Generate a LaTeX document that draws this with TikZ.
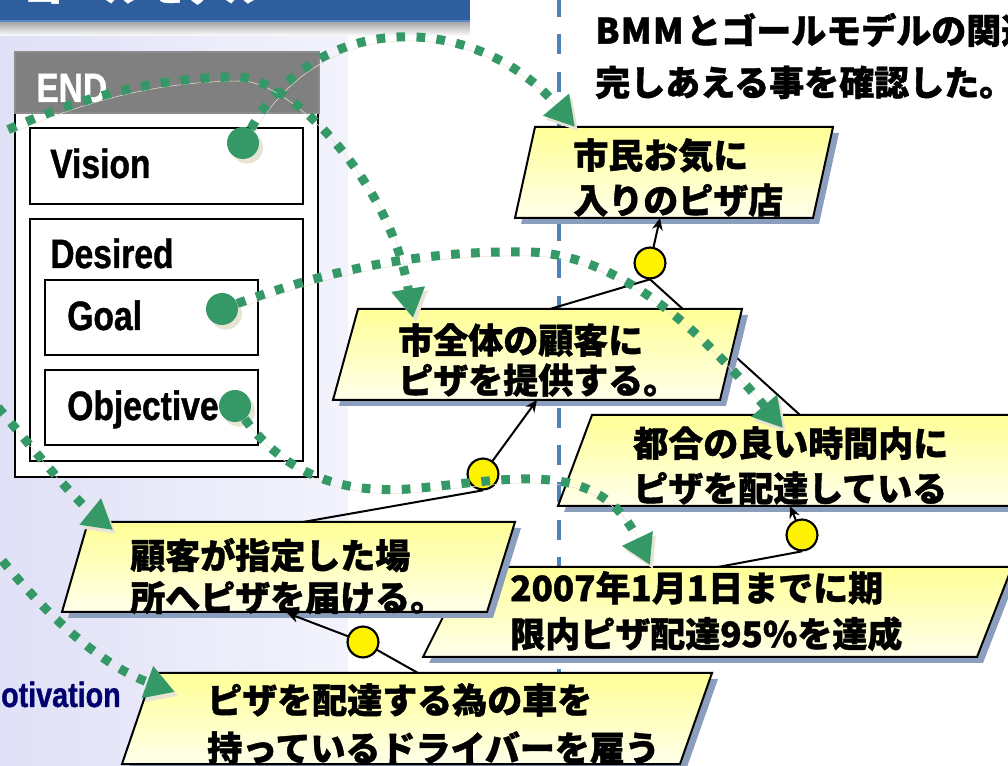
\documentclass[tikz,border=0pt]{standalone}
\usepackage{fontspec}
\newfontfamily\jpfont{Noto Sans CJK JP}[BoldFeatures={FakeBold=1.2}]
\newfontfamily\latfont{Liberation Sans}[FakeStretch=0.82, BoldFeatures={FakeBold=1}]
\usetikzlibrary{arrows.meta,shadows}
\definecolor{ggreen}{RGB}{52,153,102}
\definecolor{gcream}{RGB}{232,228,212}
\definecolor{pshadow}{RGB}{140,158,190}
\definecolor{ytop}{RGB}{255,255,150}
\definecolor{ybot}{RGB}{255,255,235}
\definecolor{dashblue}{RGB}{79,129,189}
\definecolor{hdrblue}{RGB}{46,94,158}
\definecolor{hdredge}{RGB}{90,138,205}
\definecolor{panelL}{RGB}{224,224,247}
\definecolor{panelR}{RGB}{243,243,252}
\definecolor{navy}{RGB}{0,0,110}
\definecolor{endgray}{RGB}{128,128,128}
\begin{document}
\begin{tikzpicture}[x=0.75pt,y=-0.75pt,
  jt/.style={anchor=west, inner sep=0pt, align=left, font=\jpfont\bfseries\fontsize{26.25pt}{#1pt}\selectfont},
  lt/.style={anchor=base west, inner sep=0pt, font=\latfont\bfseries\fontsize{30.75pt}{36pt}\selectfont},
  para/.style={draw=black, line width=1.5pt, top color=ytop, bottom color=ybot},
  psh/.style={fill=pshadow},
  box/.style={draw=black, line width=1.6pt, fill=white},
  orn/.style={circle, draw=black, line width=1.5pt, fill=yellow, minimum size=23pt, inner sep=0pt},
  gdn/.style={circle, fill=ggreen, minimum size=24pt, inner sep=0pt,
    drop shadow={shadow xshift=3pt, shadow yshift=-3.5pt, fill=gcream, opacity=1}},
  conn/.style={draw=black, line width=1.5pt},
  carr/.style={conn, -{Stealth[length=9pt,width=8pt]}},
  gl/.style={draw=ggreen, line width=6.75pt, dash pattern=on 6.5pt off 8.5pt,
    -{Triangle[length=22pt,width=24pt]},
    preaction={draw=gcream, transform canvas={shift={(3,4)}}}}
]
\useasboundingbox (0,0) rectangle (1008,766);
\clip (0,0) rectangle (1008,766);
\fill[white] (0,0) rectangle (1008,766);

% header bar
\shade[top color=black!35, bottom color=white] (0,22) rectangle (470,36);
\fill[hdrblue] (0,0) rectangle (470,22);
\draw[hdredge, line width=1.5pt] (0,21) -- (470,21);
\node[anchor=base west, inner sep=0pt, text=white, font=\jpfont\bfseries\fontsize{30pt}{30pt}\selectfont] (hdr) at (24,1) {ゴールモデル};

% left panel
\shade[left color=panelL, right color=panelR] (0,37) rectangle (348,766);

% END box
\draw[box] (15,113) rectangle (318,477);
\fill[endgray] (15,52) rectangle (319,114);
\draw[black!45, line width=0.8pt] (15,52) rectangle (319,113);
\node[lt, text=white] (endl) at (36,102) {END};
\draw[box] (30,128) rectangle (303,204);
\node[lt] (vis) at (50,178) {Vision};
\draw[box] (30,219) rectangle (303,461);
\node[lt] (des) at (50,268) {Desired};
\draw[box] (45,280) rectangle (258,355);
\node[lt] (goal) at (67,330) {Goal};
\draw[box] (45,370) rectangle (258,445);
\node[lt] (obj) at (67,420) {Objective};

\node[anchor=base east, inner sep=0pt, text=navy, font=\latfont\bfseries\fontsize{26.25pt}{30pt}\selectfont] (mot) at (121,707) {Motivation};

% blue dashed separator
\coordinate (dtop) at (559,-3);
\coordinate (dbot) at (559,766);
\draw[dashblue, line width=3pt, dash pattern=on 15pt off 13pt] (dtop) -- (dbot);

% title
\node[jt=39] (title) at (595,56) {B\kern1pt M\kern1pt M\kern2ptとゴールモデルの関連を補\\完しあえる事を確認した。};

% connection coordinates
\coordinate (Atop) at (575,127);
\coordinate (Abot) at (660,218);
\coordinate (Btop) at (550,309);
\coordinate (Btip) at (413,318);
\coordinate (Bbot) at (537,400);
\coordinate (Ctop) at (800,415);
\coordinate (Ctip) at (783,428);
\coordinate (Cbot) at (790,506);
\coordinate (Dtop) at (718,567);
\coordinate (Dtip) at (650,565);
\coordinate (Etop) at (303,522);
\coordinate (Etip) at (113,530);
\coordinate (Ebot) at (287,613);
\coordinate (Ftop) at (418,673);
\coordinate (Ftip) at (175,692);
\coordinate (L1) at (-10,138);
\coordinate (L2) at (-15,392);
\coordinate (L3) at (-10,545);

% OR circles
\node[orn] (y1) at (650,263) {};
\node[orn] (y2) at (483,474) {};
\node[orn] (y3) at (802,535) {};
\node[orn] (y4) at (363,642) {};

% plain links (behind nodes)
\draw[conn] (y1.south) -- (Btop);
\draw[conn] (y1.south) -- (Ctop);
\draw[conn] (y2.south) -- (Etop);
\draw[conn] (y3.south) -- (Dtop);
\draw[conn] (y4) -- (Ftop);

% parallelogram nodes
\fill[psh, shift={(6,6)}] (535,127) -- (833,127) -- (813,218) -- (515,218) -- cycle;
\path[para] (535,127) -- (833,127) -- (813,218) -- (515,218) -- cycle;
\node[jt=33.75] (tA) at (573,177.5) {市民お気に\\入りのピザ店};

\fill[psh, shift={(6,6)}] (358,309) -- (742,309) -- (720,400) -- (333,400) -- cycle;
\path[para] (358,309) -- (742,309) -- (720,400) -- (333,400) -- cycle;
\node[jt=30] (tB) at (398,360) {市全体の顧客に\\ピザを提供する。};

\fill[psh, shift={(6,6)}] (592,415) -- (1040,415) -- (1010,506) -- (558,506) -- cycle;
\path[para] (592,415) -- (1040,415) -- (1010,506) -- (558,506) -- cycle;
\node[jt=33.75] (tC) at (633,465.5) {都合の良い時間内に\\ピザを配達している};

\fill[psh, shift={(6,6)}] (468,567) -- (1012,567) -- (977,657) -- (423,657) -- cycle;
\path[para] (468,567) -- (1012,567) -- (977,657) -- (423,657) -- cycle;
\node[jt=34.5] (tD) at (510,611) {2007年1月1日までに期\\限内ピザ配達95\%を達成};

\fill[psh, shift={(6,6)}] (88,522) -- (515,522) -- (487,612) -- (62,612) -- cycle;
\path[para] (88,522) -- (515,522) -- (487,612) -- (62,612) -- cycle;
\node[jt=31.5] (tE) at (130,576) {顧客が指定した場\\所へピザを届ける。};

\fill[psh, shift={(6,6)}] (153,673) -- (712,673) -- (680,764) -- (122,764) -- cycle;
\path[para] (153,673) -- (712,673) -- (680,764) -- (122,764) -- cycle;
\node[jt=36] (tF) at (207,724) {ピザを配達する為の車を\\持っているドライバーを雇う};

% OR circles on top
\node[orn] at (y1) {};
\node[orn] at (y2) {};
\node[orn] at (y3) {};
\node[orn] at (y4) {};

% arrows to parents
\draw[carr] (y1) -- (Abot);
\draw[carr] (y2) -- (Bbot);
\draw[carr] (y3) -- (Cbot);
\draw[carr] (y4) -- (Ebot);

% green dots
\node[gdn] (vdot) at (243,143) {};
\node[gdn] (gdot) at (222,309) {};
\node[gdn] (odot) at (235,406) {};

% green dotted mappings
\draw[gl] (vdot) .. controls (320,5) and (480,15) .. (Atop);
\draw[gl] (L1) .. controls (80,95) and (160,77) .. (240,77) .. controls (290,80) and (390,180) .. (Btip);
\draw[gl] (gdot) .. controls (330,270) and (420,250) .. (530,252) .. controls (620,255) and (700,330) .. (Ctip);
\draw[gl] (odot) .. controls (290,480) and (350,495) .. (420,488) .. controls (520,478) and (600,460) .. (Dtip);
\draw[gl] (L2) .. controls (30,445) and (70,495) .. (Etip);
\draw[gl] (L3) .. controls (40,610) and (100,665) .. (Ftip);
\end{tikzpicture}
\end{document}
